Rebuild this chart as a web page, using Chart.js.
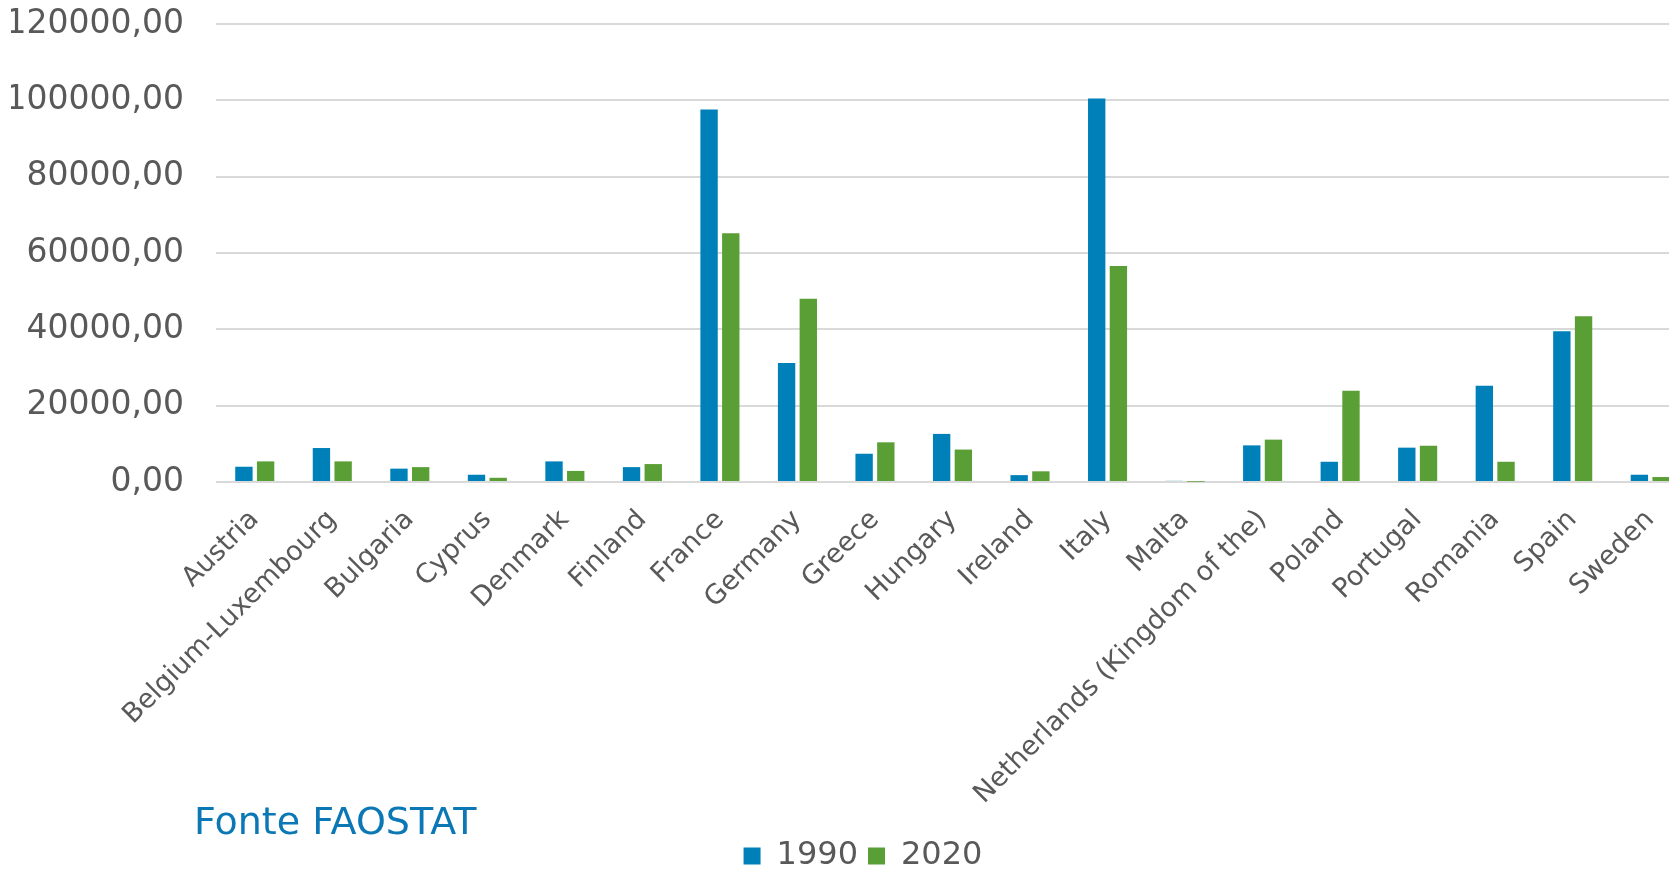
<!DOCTYPE html>
<html>
<head>
<meta charset="utf-8">
<script src="https://cdn.jsdelivr.net/npm/chart.js@4/dist/chart.umd.min.js"></script>
<style>
  html, body { margin: 0; padding: 0; background: #ffffff; overflow: hidden; width: 1669px; height: 871px; }
  canvas { display: block; }
</style>
</head>
<body>
<canvas id="c" width="1694" height="871"></canvas>
<script>
const countries = ['Austria','Belgium-Luxembourg','Bulgaria','Cyprus','Denmark','Finland','France','Germany','Greece','Hungary','Ireland','Italy','Malta','Netherlands (Kingdom of the)','Poland','Portugal','Romania','Spain','Sweden'];
const values1990 = [4000, 8900, 3500, 1900, 5400, 3900, 97600, 31200, 7400, 12600, 1800, 100500, 300, 9600, 5300, 9000, 25200, 39500, 1900];
const values2020 = [5400, 5400, 3900, 1100, 2900, 4700, 65200, 48000, 10400, 8500, 2800, 56600, 80, 11100, 23900, 9500, 5300, 43400, 1300];
const seriesNames = ['1990', '2020'];
const sourceText = 'Fonte FAOSTAT';

const FONT = "'DejaVu Sans', Verdana, sans-serif";

const legendShift = { id: 'legendShift', afterLayout(chart) {
  const l = chart.legend; const dx = 13, dy = 11;
  l.left += dx; l.right += dx; l.top += dy; l.bottom += dy;
}};
const sourcePlugin = { id: 'source', afterDraw(chart) {
  const ctx = chart.ctx; ctx.save();
  ctx.font = "38px " + FONT; ctx.fillStyle = '#0b78b5';
  ctx.textAlign = 'left'; ctx.textBaseline = 'alphabetic';
  ctx.fillText(sourceText, 194, 834);
  ctx.restore();
}};

new Chart(document.getElementById('c'), {
  type: 'bar',
  data: {
    labels: countries,
    datasets: [
      { label: seriesNames[0], data: values1990, backgroundColor: '#0080b9' },
      { label: seriesNames[1], data: values2020, backgroundColor: '#5a9f35' }
    ]
  },
  options: {
    responsive: false,
    animation: false,
    devicePixelRatio: 1,
    categoryPercentage: 0.56,
    barPercentage: 0.8,
    layout: { padding: { left: 11, right: 5, top: 24, bottom: 0 } },
    plugins: {
      tooltip: { enabled: false },
      legend: {
        position: 'bottom',
        labels: { font: { family: FONT, size: 32 }, color: '#595959', boxWidth: 17, boxHeight: 17, padding: 10 }
      }
    },
    scales: {
      x: {
        grid: { display: false },
        border: { display: false },
        ticks: { font: { family: FONT, size: 27 }, color: '#595959', minRotation: 45, maxRotation: 45, autoSkip: false, padding: 14 },
        afterFit(scale) { scale.paddingLeft = 0; scale.paddingRight = 0; scale.height = 337; }
      },
      y: {
        min: 0, max: 120000,
        grid: { color: '#d9d9d9', lineWidth: 2, drawTicks: false },
        border: { display: false },
        ticks: { stepSize: 20000, padding: 32, font: { family: FONT, size: 33 }, color: '#595959',
          callback: v => v.toFixed(2).replace('.', ',') },
        afterFit(scale) { scale.width = 205; scale.paddingTop = 0; scale.paddingBottom = 0; }
      }
    }
  },
  plugins: [legendShift, sourcePlugin]
});
</script>
</body>
</html>
